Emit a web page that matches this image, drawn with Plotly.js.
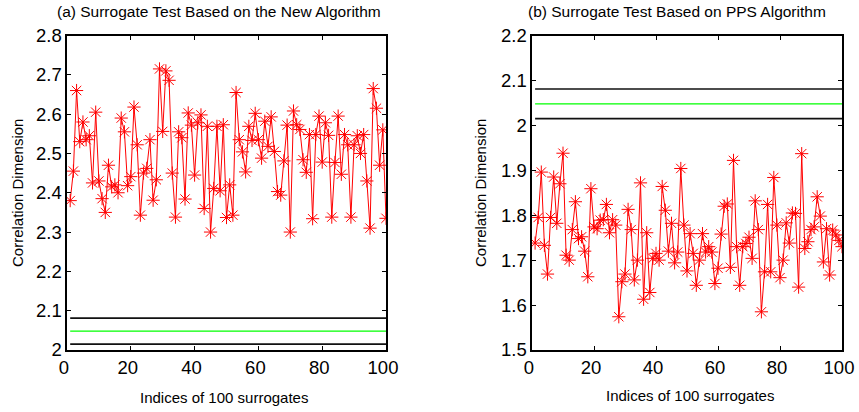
<!DOCTYPE html>
<html>
<head>
<meta charset="utf-8">
<script src="https://cdn.plot.ly/plotly-3.0.1.min.js"></script>
<style>html,body{margin:0;padding:0;background:#fff;}#chart{width:859px;height:412px;}</style>
</head>
<body>
<div id="chart"></div>
<script>
// Surrogate indices
const indices = Array.from({length: 100}, (_, k) => k + 1);

// (a) New algorithm: correlation dimension of each surrogate
const surrogatesNew = [
  2.380, 2.455, 2.660, 2.530, 2.580, 2.535, 2.545, 2.425, 2.605, 2.430,
  2.385, 2.350, 2.470, 2.415, 2.420, 2.400, 2.590, 2.555, 2.418, 2.441,
  2.618, 2.522, 2.343, 2.450, 2.462, 2.535, 2.381, 2.433, 2.715, 2.556,
  2.710, 2.686, 2.450, 2.338, 2.555, 2.540, 2.384, 2.603, 2.572, 2.445,
  2.578, 2.598, 2.360, 2.569, 2.300, 2.411, 2.569, 2.405, 2.573, 2.337,
  2.420, 2.343, 2.655, 2.535, 2.504, 2.453, 2.569, 2.533, 2.602, 2.535,
  2.488, 2.582, 2.518, 2.593, 2.505, 2.403, 2.394, 2.481, 2.572, 2.300,
  2.608, 2.573, 2.561, 2.484, 2.452, 2.548, 2.334, 2.548, 2.595, 2.478,
  2.578, 2.546, 2.338, 2.477, 2.595, 2.447, 2.548, 2.522, 2.338, 2.522,
  2.545, 2.500, 2.548, 2.430, 2.310, 2.665, 2.615, 2.470, 2.560, 2.335
];

// (b) PPS algorithm: correlation dimension of each surrogate
const surrogatesPPS = [
  1.738, 1.795, 1.896, 1.733, 1.669, 1.795, 1.885, 1.782, 1.870, 1.938,
  1.711, 1.700, 1.768, 1.830, 1.748, 1.752, 1.720, 1.663, 1.859, 1.774,
  1.770, 1.789, 1.790, 1.824, 1.761, 1.790, 1.778, 1.574, 1.652, 1.669,
  1.813, 1.768, 1.656, 1.700, 1.872, 1.613, 1.761, 1.628, 1.704, 1.715,
  1.700, 1.864, 1.811, 1.720, 1.782, 1.694, 1.718, 1.904, 1.778, 1.676,
  1.759, 1.715, 1.644, 1.700, 1.759, 1.718, 1.730, 1.718, 1.648, 1.682,
  1.758, 1.820, 1.825, 1.684, 1.922, 1.730, 1.644, 1.730, 1.737, 1.751,
  1.704, 1.832, 1.768, 1.585, 1.674, 1.824, 1.674, 1.884, 1.778, 1.661,
  1.700, 1.783, 1.738, 1.805, 1.804, 1.640, 1.937, 1.726, 1.741, 1.768,
  1.774, 1.841, 1.798, 1.696, 1.770, 1.667, 1.767, 1.756, 1.744, 1.730
];

// Reference levels (original data): upper bound, mean, lower bound
const refX = [1, 100];
const refUpper = 2.081;
const refMean = 2.048;
const refLower = 2.015;

const titles = ['(a) Surrogate Test Based on the New Algorithm', '(b) Surrogate Test Based on PPS Algorithm'];
const xTitle = 'Indices of 100 surrogates';
const yTitle = 'Correlation Dimension';

const FONT = 'Arial, "Liberation Sans", Helvetica, sans-serif';
const W = 859, H = 412;

function refTraces(xa, ya) {
  return [
    {x: refX, y: [refUpper, refUpper], xaxis: xa, yaxis: ya, mode: 'lines', line: {color: '#111', width: 1.6}, hoverinfo: 'skip'},
    {x: refX, y: [refMean, refMean], xaxis: xa, yaxis: ya, mode: 'lines', line: {color: '#00ff00', width: 1.2}, hoverinfo: 'skip'},
    {x: refX, y: [refLower, refLower], xaxis: xa, yaxis: ya, mode: 'lines', line: {color: '#111', width: 1.6}, hoverinfo: 'skip'}
  ];
}
function dataTrace(ys, xa, ya) {
  return {
    x: indices, y: ys, xaxis: xa, yaxis: ya, mode: 'lines+markers',
    line: {color: '#ff0000', width: 1},
    marker: {symbol: 'asterisk-open', size: 11, color: '#ff0000', line: {color: '#ff0000', width: 1}}
  };
}

const traces = [
  ...refTraces('x', 'y'),
  dataTrace(surrogatesNew, 'x', 'y'),
  ...refTraces('x2', 'y2'),
  dataTrace(surrogatesPPS, 'x2', 'y2')
];

function xaxisDef(domain, anchor) {
  return {
    domain: domain, anchor: anchor, range: [0, 100], dtick: 20, tick0: 0,
    ticks: 'inside', ticklen: 4, tickwidth: 1, tickcolor: '#000',
    showline: true, linecolor: '#000', linewidth: 1.6, mirror: 'ticks',
    showgrid: false, zeroline: false, ticklabelshift: -3,
    tickfont: {family: FONT, size: 18.5, color: '#000'}
  };
}
function yaxisDef(domain, anchor, range) {
  return {
    domain: domain, anchor: anchor, range: range, dtick: 0.1, tick0: 0,
    ticks: 'inside', ticklen: 4, tickwidth: 1, tickcolor: '#000',
    showline: true, linecolor: '#000', linewidth: 1.6, mirror: 'ticks',
    showgrid: false, zeroline: false,
    tickfont: {family: FONT, size: 18.5, color: '#000'}
  };
}

function ann(text, xpx, ypx, size, angle) {
  return {text: text, xref: 'paper', yref: 'paper', x: xpx / W, y: 1 - ypx / H,
    xanchor: 'center', yanchor: 'middle', showarrow: false, textangle: angle || 0,
    font: {family: FONT, size: size, color: '#000'}};
}

const yDom = [62 / H, 376.5 / H];
const layout = {
  width: W, height: H,
  margin: {l: 0, r: 0, t: 0, b: 0},
  paper_bgcolor: '#fff', plot_bgcolor: '#fff',
  showlegend: false,
  font: {family: FONT, color: '#000'},
  xaxis: xaxisDef([67 / W, 386 / W], 'y'),
  yaxis: yaxisDef(yDom, 'x', [2, 2.8]),
  xaxis2: xaxisDef([532 / W, 842 / W], 'y2'),
  yaxis2: yaxisDef(yDom, 'x2', [1.5, 2.2]),
  annotations: [
    ann(titles[0], 219, 12, 15.5),
    ann(titles[1], 677, 12, 15.5),
    ann(xTitle, 224, 397, 15),
    ann(xTitle, 690, 395, 15),
    ann(yTitle, 17, 193, 15, -90),
    ann(yTitle, 480, 193, 15, -90)
  ]
};

Plotly.newPlot('chart', traces, layout, {displayModeBar: false, staticPlot: true});
</script>
</body>
</html>
